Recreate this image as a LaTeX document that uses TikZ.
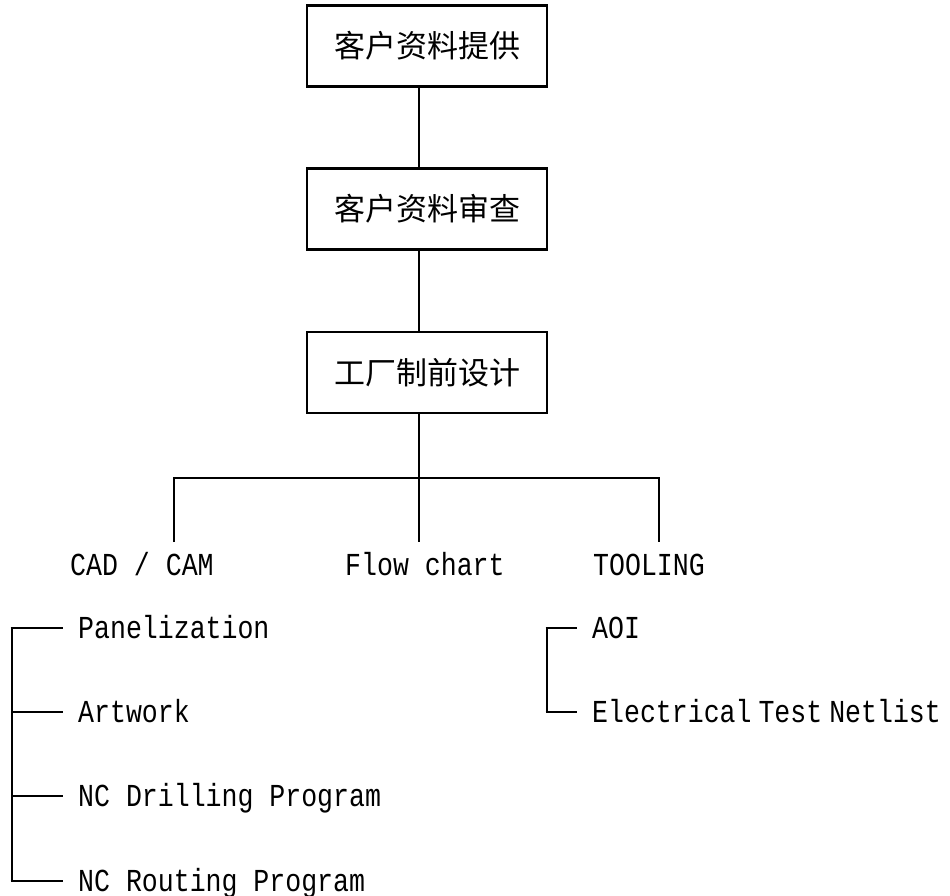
\documentclass[tikz,border=0pt]{standalone}
\usepackage{fontspec}
\newfontfamily\cjk{Noto Sans CJK SC}
\newfontfamily\latmono[FakeStretch=0.83]{Liberation Mono}
\begin{document}
\begin{tikzpicture}[x=1pt,y=-1pt,
  boxnode/.style={draw,line width=2.6pt,minimum width=240pt,minimum height=81pt,inner sep=0pt,font=\cjk\fontsize{31}{31}\selectfont},
  lbl/.style={anchor=base west,inner sep=0pt,font=\latmono\fontsize{32}{32}\selectfont},
  conn/.style={line width=2.6pt}]
\useasboundingbox (0,0) rectangle (950,896);
% boxes
\node[boxnode] (b1) at (427,46) {客户资料提供};
\node[boxnode] (b2) at (427,209) {客户资料审查};
\node[boxnode] (b3) at (427,372.5) {工厂制前设计};
% main spine
\coordinate (sp) at (419,0);
\coordinate (hl) at (174,478);
\coordinate (hr) at (659,478);
\coordinate (c1) at (174,542);
\coordinate (c2) at (419,542);
\coordinate (c3) at (659,542);
\draw[conn] (b1.south -| sp) -- (b2.north -| sp);
\draw[conn] (b2.south -| sp) -- (b3.north -| sp);
\draw[conn] (b3.south -| sp) -- (c2);
\draw[conn] (c1) -- (hl) -- (hr) -- (c3);
% level 2 labels
\node[lbl] (cad) at (70,575) {CAD / CAM};
\node[lbl] (flow) at (345,575) {Flow chart};
\node[lbl] (tool) at (593,575) {TOOLING};
% CAD/CAM children
\coordinate (L1) at (12,628);
\coordinate (L2) at (12,712);
\coordinate (L3) at (12,796);
\coordinate (L4) at (12,881);
\node[lbl] (pan) at (78,638) {Panelization};
\node[lbl] (art) at (78,722) {Artwork};
\node[lbl] (drl) at (78,806) {NC Drilling Program};
\node[lbl] (rout) at (78,891) {NC Routing Program};
\draw[conn] ([yshift=-1.3pt]L1) -- ([yshift=1.3pt]L4);
\draw[conn,shorten >=15pt] ([xshift=-1.3pt]L1) -- (L1 -| pan.west);
\draw[conn,shorten >=15pt] (L2) -- (L2 -| art.west);
\draw[conn,shorten >=15pt] (L3) -- (L3 -| drl.west);
\draw[conn,shorten >=15pt] ([xshift=-1.3pt]L4) -- (L4 -| rout.west);
% TOOLING children
\coordinate (T1) at (547,628);
\coordinate (T2) at (547,712);
\node[lbl] (aoi) at (592,638) {AOI};
\node[lbl] (ett) at (592,722) {Electrical\hspace{7pt}Test\hspace{7pt}Netlist};
\draw[conn] ([yshift=-1.3pt]T1) -- ([yshift=1.3pt]T2);
\draw[conn,shorten >=15pt] ([xshift=-1.3pt]T1) -- (T1 -| aoi.west);
\draw[conn,shorten >=15pt] ([xshift=-1.3pt]T2) -- (T2 -| ett.west);
\end{tikzpicture}
\end{document}
